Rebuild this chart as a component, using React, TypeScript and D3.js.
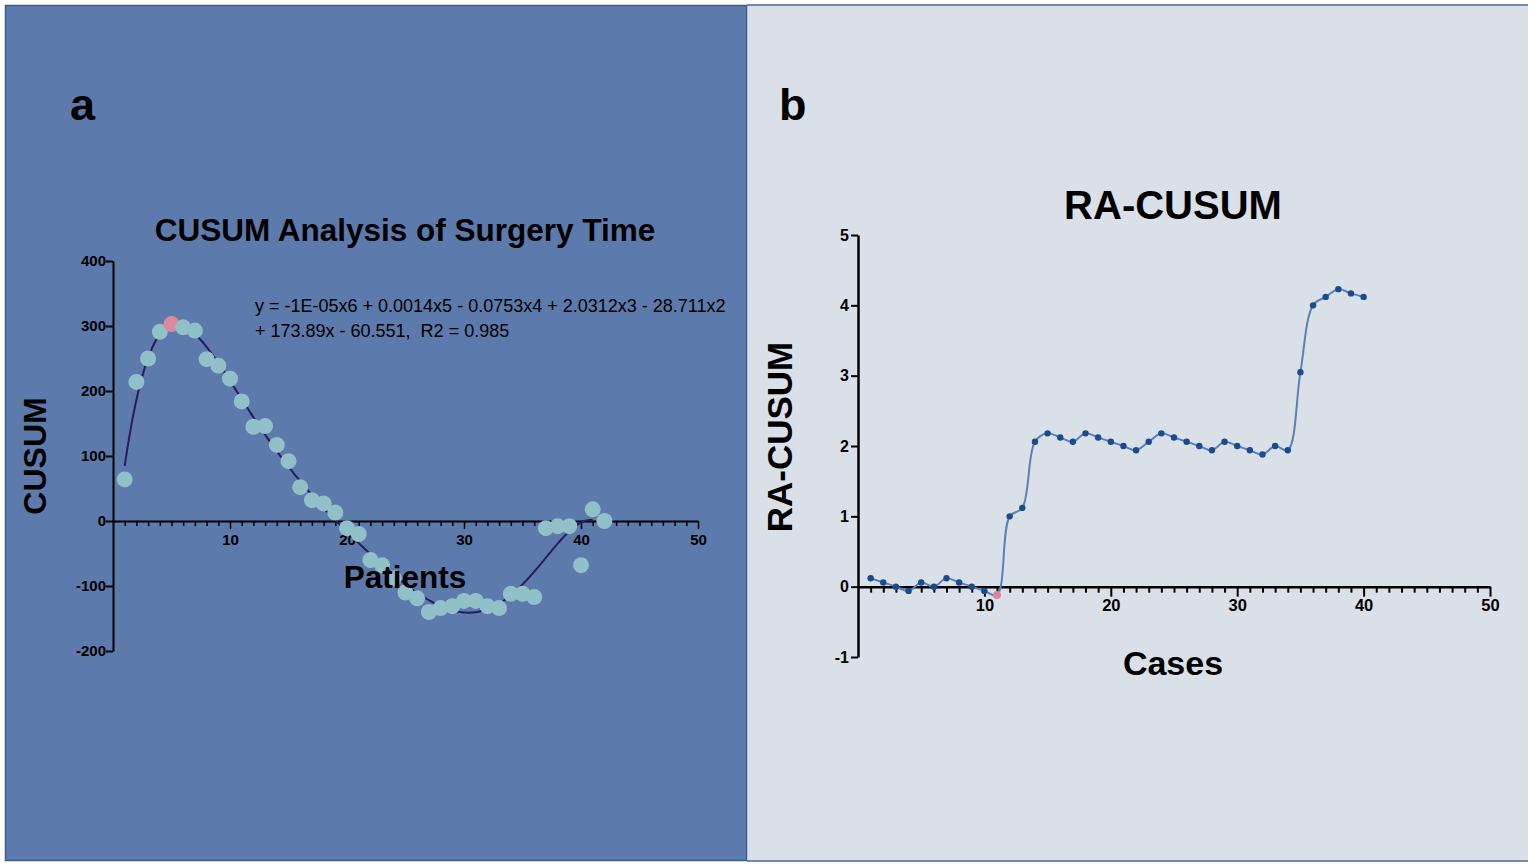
import * as d3 from "d3";
import { useEffect, useRef } from "react";

// panel a: CUSUM of surgery time, patients 1..42
const patientCusum = [
  64, 214, 250, 291, 303, 298, 293, 249, 239, 219, 184, 145, 146, 117, 92, 52, 32, 27, 13, -11, -20,
  -60, -68, -88, -110, -119, -140, -134, -131, -123, -123, -131, -134, -112, -112, -117, -11, -8, -8,
  -68, 18, 0,
];
const patientPeak = 5;
const patientTicks = [10, 20, 30, 40, 50];
const cusumTicks = [400, 300, 200, 100, 0, -100, -200];
const equationLines = [
  "y = -1E-05x6 + 0.0014x5 - 0.0753x4 + 2.0312x3 - 28.711x2",
  "+ 173.89x - 60.551,  R2 = 0.985",
];

// panel b: RA-CUSUM, cases 1..40
const raCusum = [
  0.12, 0.06, 0, -0.06, 0.06, 0, 0.12, 0.06, 0, -0.06, -0.12, 1.0, 1.12, 2.06, 2.18, 2.12, 2.06, 2.18,
  2.12, 2.06, 2.0, 1.94, 2.06, 2.18, 2.12, 2.06, 2.0, 1.94, 2.06, 2.0, 1.94, 1.88, 2.0, 1.94, 3.05, 4.0,
  4.12, 4.23, 4.17, 4.12,
];
const raMarked = 11;
const caseTicks = [10, 20, 30, 40, 50];
const raTicks = [5, 4, 3, 2, 1, 0, -1];

const FONT = "'Liberation Sans', Arial, Helvetica, sans-serif";
const fmt = (d: d3.NumberValue) => String(d).replace("−", "-");

// least squares polynomial, x normalised for stability
function polyFit(xs: number[], ys: number[], degree: number) {
  const mid = d3.mean(xs) ?? 0;
  const half = (d3.max(xs)! - d3.min(xs)!) / 2 || 1;
  const n = degree + 1;
  const A = d3.range(n).map(() => new Array(n + 1).fill(0));
  xs.forEach((x, k) => {
    const t = (x - mid) / half;
    const pw = d3.range(2 * n).map((p) => Math.pow(t, p));
    for (let i = 0; i < n; i++) {
      for (let j = 0; j < n; j++) A[i][j] += pw[i + j];
      A[i][n] += pw[i] * ys[k];
    }
  });
  for (let c = 0; c < n; c++) {
    let piv = c;
    for (let r = c + 1; r < n; r++) if (Math.abs(A[r][c]) > Math.abs(A[piv][c])) piv = r;
    [A[c], A[piv]] = [A[piv], A[c]];
    for (let r = 0; r < n; r++) {
      if (r === c) continue;
      const f = A[r][c] / A[c][c];
      for (let k = c; k <= n; k++) A[r][k] -= f * A[c][k];
    }
  }
  const coef = A.map((row, i) => row[n] / row[i]);
  return (x: number) => {
    const t = (x - mid) / half;
    return coef.reduce((s, c, i) => s + c * Math.pow(t, i), 0);
  };
}

export default function App() {
  const svgRef = useRef<SVGSVGElement>(null);

  useEffect(() => {
    const svg = d3.select(svgRef.current);
    svg.selectAll("*").remove();

    // backgrounds
    svg.append("rect").attr("x", 747).attr("y", 5).attr("width", 781).attr("height", 856).attr("fill", "#dae0e7");
    svg.append("line").attr("x1", 747).attr("x2", 1528).attr("y1", 5).attr("y2", 5).attr("stroke", "#4a6aa0").attr("stroke-width", 1.5);
    svg.append("line").attr("x1", 747).attr("x2", 1528).attr("y1", 861).attr("y2", 861).attr("stroke", "#4a6aa0").attr("stroke-width", 1.5);
    svg.append("rect").attr("x", 5.5).attr("y", 5.5).attr("width", 741).attr("height", 855)
      .attr("fill", "#5c7aab").attr("stroke", "#3d5c92").attr("stroke-width", 1.5);

    // ---------- panel a ----------
    const a = svg.append("g").attr("font-family", FONT);
    const xa = d3.scaleLinear().domain([0, 50]).range([113, 698]);
    const ya = d3.scaleLinear().domain([-200, 400]).range([651, 261]);

    a.append("text").attr("x", 70).attr("y", 120).attr("font-size", 45).attr("font-weight", "bold").text("a");
    a.append("text").attr("x", 405).attr("y", 241).attr("text-anchor", "middle").attr("font-size", 31.5)
      .attr("font-weight", "bold").text("CUSUM Analysis of Surgery Time");

    const yAxisA = a.append("g").attr("transform", `translate(${xa(0)},0)`)
      .call(d3.axisLeft(ya).tickValues(cusumTicks).tickSize(7).tickSizeOuter(0).tickFormat(fmt));
    yAxisA.select(".domain").attr("stroke", "#000").attr("stroke-width", 2);
    yAxisA.selectAll(".tick line").attr("stroke", "#000").attr("stroke-width", 2);
    yAxisA.selectAll(".tick text").attr("font-size", 15).attr("font-weight", "bold").attr("font-family", FONT).attr("x", -7);

    const xAxisA = a.append("g").attr("transform", `translate(0,${ya(0)})`)
      .call(d3.axisBottom(xa).ticks(50).tickSize(5).tickSizeOuter(0).tickFormat((d) => (patientTicks.includes(+d) ? fmt(d) : "")));
    xAxisA.select(".domain").attr("stroke", "#000").attr("stroke-width", 2);
    xAxisA.selectAll(".tick line").attr("stroke", "#000").attr("stroke-width", 1.5)
      .attr("y2", (d) => (patientTicks.includes(+d as number) ? 8 : 5));
    xAxisA.selectAll(".tick").filter((d) => +d === 0).remove();
    xAxisA.selectAll(".tick text").attr("font-size", 15).attr("font-weight", "bold").attr("font-family", FONT).attr("y", 13);

    const pxs = patientCusum.map((_, i) => i + 1);
    const fit = polyFit(pxs, patientCusum, 6);
    const curvePts = d3.range(1, 41.01, 0.1).map((x) => [x, fit(x)] as [number, number]);
    a.append("path")
      .attr("d", d3.line<[number, number]>().x((d) => xa(d[0])).y((d) => ya(d[1]))(curvePts) ?? "")
      .attr("fill", "none").attr("stroke", "#2a1a5e").attr("stroke-width", 2);

    a.append("g").selectAll("circle").data(patientCusum).join("circle")
      .attr("cx", (_, i) => xa(i + 1)).attr("cy", (d) => ya(d)).attr("r", 8)
      .attr("fill", (_, i) => (i + 1 === patientPeak ? "#d98a9f" : "#91c0c8"));

    a.append("text").attr("x", 405).attr("y", 588).attr("text-anchor", "middle").attr("font-size", 31.5)
      .attr("font-weight", "bold").text("Patients");
    a.append("text").attr("transform", "translate(46,456) rotate(-90)").attr("text-anchor", "middle")
      .attr("font-size", 32).attr("font-weight", "bold").text("CUSUM");
    a.append("g").selectAll("text").data(equationLines).join("text")
      .attr("x", 255).attr("y", (_, i) => 312 + i * 25).attr("font-size", 18)
      .style("white-space", "pre").text((d) => d);

    // ---------- panel b ----------
    const b = svg.append("g").attr("font-family", FONT);
    const xb = d3.scaleLinear().domain([0, 50]).range([858, 1490]);
    const yb = d3.scaleLinear().domain([-1, 5]).range([657, 235]);

    b.append("text").attr("x", 779).attr("y", 120).attr("font-size", 45).attr("font-weight", "bold").text("b");
    b.append("text").attr("x", 1173).attr("y", 219).attr("text-anchor", "middle").attr("font-size", 40)
      .attr("font-weight", "bold").text("RA-CUSUM");

    const yAxisB = b.append("g").attr("transform", `translate(${xb(0)},0)`)
      .call(d3.axisLeft(yb).tickValues(raTicks).tickSize(7).tickSizeOuter(0).tickFormat(fmt));
    yAxisB.select(".domain").attr("stroke", "#000").attr("stroke-width", 2.5);
    yAxisB.selectAll(".tick line").attr("stroke", "#000").attr("stroke-width", 2);
    yAxisB.selectAll(".tick text").attr("font-size", 16).attr("font-weight", "bold").attr("font-family", FONT).attr("x", -9);

    const xAxisB = b.append("g").attr("transform", `translate(0,${yb(0)})`)
      .call(d3.axisBottom(xb).ticks(50).tickSize(6).tickSizeOuter(0).tickFormat((d) => (caseTicks.includes(+d) ? fmt(d) : "")));
    xAxisB.select(".domain").attr("stroke", "#000").attr("stroke-width", 2.5);
    xAxisB.selectAll(".tick line").attr("stroke", "#000").attr("stroke-width", 2)
      .attr("y2", (d) => (caseTicks.includes(+d as number) ? 10 : 6));
    xAxisB.selectAll(".tick").filter((d) => +d === 0).remove();
    xAxisB.selectAll(".tick text").attr("font-size", 16.5).attr("font-weight", "bold").attr("font-family", FONT).attr("y", 13);

    b.append("path")
      .attr("d", d3.line<number>().curve(d3.curveCatmullRom.alpha(0.5)).x((_, i) => xb(i + 1)).y((d) => yb(d))(raCusum) ?? "")
      .attr("fill", "none").attr("stroke", "#5a80b8").attr("stroke-width", 2);
    b.append("g").selectAll("circle").data(raCusum).join("circle")
      .attr("cx", (_, i) => xb(i + 1)).attr("cy", (d) => yb(d)).attr("r", (_, i) => (i + 1 === raMarked ? 4 : 3.2))
      .attr("fill", (_, i) => (i + 1 === raMarked ? "#e0849c" : "#1a4c8c"));

    b.append("text").attr("x", 1173).attr("y", 675).attr("text-anchor", "middle").attr("font-size", 34)
      .attr("font-weight", "bold").text("Cases");
    b.append("text").attr("transform", "translate(792,437) rotate(-90)").attr("text-anchor", "middle")
      .attr("font-size", 35).attr("font-weight", "bold").text("RA-CUSUM");
  }, []);

  return (
    <svg
      ref={svgRef}
      width={1535}
      height={868}
      style={{ position: "absolute", left: 0, top: 0, background: "#fff" }}
    />
  );
}
